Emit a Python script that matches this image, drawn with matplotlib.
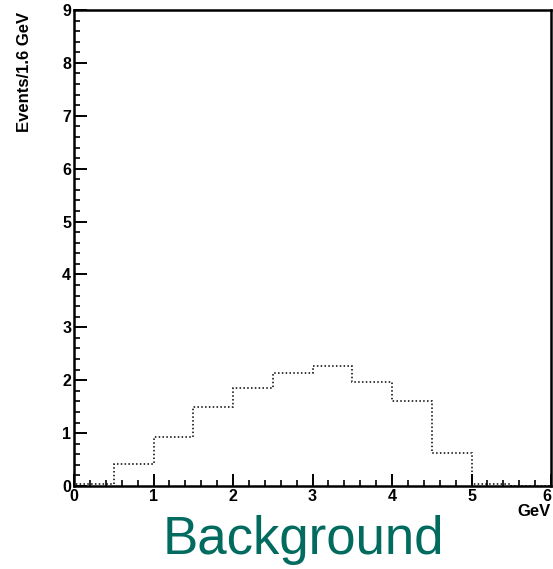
import matplotlib
matplotlib.use("Agg")
import matplotlib.pyplot as plt
from matplotlib.ticker import MultipleLocator
import numpy as np

plt.rcParams['font.family'] = ['Liberation Sans', 'DejaVu Sans']

# Histogram contents (bin width 0.5 GeV)
bin_edges = [0.0, 0.5, 1.0, 1.5, 2.0, 2.5, 3.0, 3.5, 4.0, 4.5, 5.0, 5.5, 6.0]
bin_counts = [0.04, 0.42, 0.93, 1.50, 1.86, 2.13, 2.27, 1.97, 1.61, 0.62, 0.04, 0.0]

x_ticks = [0, 1, 2, 3, 4, 5, 6]
y_ticks = [0, 1, 2, 3, 4, 5, 6, 7, 8, 9]

W, H, DPI = 553, 569, 100
fig = plt.figure(figsize=(W / DPI, H / DPI), dpi=DPI)
ax = fig.add_axes([74 / W, 1 - 486 / H, (551 - 74) / W, (486 - 10) / H])

ax.stairs(bin_counts, bin_edges, color='black', linestyle=(0, (1, 1.5)), linewidth=1.1)

ax.set_xlim(0, 6)
ax.set_ylim(0, 9)
ax.set_xticks(x_ticks)
ax.set_yticks(y_ticks)
ax.xaxis.set_minor_locator(MultipleLocator(0.2))
ax.yaxis.set_minor_locator(MultipleLocator(0.2))

for s in ax.spines.values():
    s.set_linewidth(1.8)
    s.set_color('black')

ax.tick_params(which='major', direction='in', length=9, width=1.4, labelsize=11.5,
               top=False, right=False)
ax.tick_params(which='minor', direction='in', length=4.5, width=1.2, top=False, right=False)
ax.tick_params(axis='x', which='major', pad=2)
ax.tick_params(axis='y', which='major', pad=2)
for lab in ax.get_xticklabels() + ax.get_yticklabels():
    lab.set_fontweight('bold')
# keep the last x label inside the canvas
xlabs = ax.get_xticklabels()
xlabs[-1].set_horizontalalignment('right')

# Axis titles placed at the axis ends
fig.text(25 / W, 1 - 12 / H, 'Events/1.6 GeV', rotation=90, ha='center', va='top',
         fontsize=12, fontweight='bold')
fig.text(551 / W, 1 - 504 / H, 'GeV', ha='right', va='top',
         fontsize=12, fontweight='bold')

fig.text(303 / W, 1 - 540 / H, 'Background', ha='center', va='center',
         fontsize=38, color='#006B5E')

fig.savefig('out.png', dpi=DPI)
